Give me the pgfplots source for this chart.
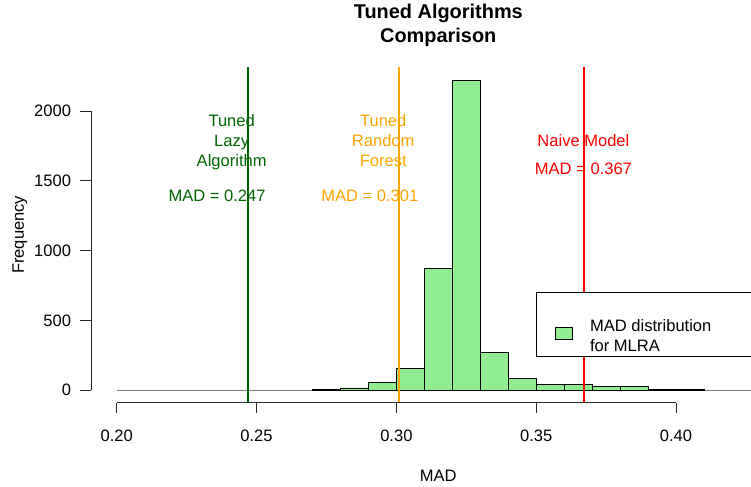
\documentclass[border=0pt]{standalone}
\usepackage{pgfplots}
\pgfplotsset{compat=1.18}
\usepackage{fontspec}
\setmainfont{Liberation Sans}
\definecolor{lightgreenR}{RGB}{144,238,144}
\definecolor{darkgreenR}{RGB}{0,100,0}
\definecolor{orangeR}{RGB}{255,165,0}
\definecolor{redR}{RGB}{255,0,0}
\definecolor{axgray}{RGB}{40,40,40}
\newcommand{\fs}{\fontsize{16.6}{20}\selectfont}
\begin{document}
\begin{tikzpicture}
\useasboundingbox (-91bp,-84.3bp) rectangle (660bp,402.7bp);
\begin{axis}[
  at={(0,0)}, anchor=south west,
  scale only axis, width=694.6bp, height=335.7bp,
  xmin=0.1908, xmax=0.4392, ymin=-89, ymax=2316,
  axis line style={draw=none},
  xtick={0.2,0.25,0.3,0.35,0.4},
  xticklabels={0.20,0.25,0.30,0.35,0.40},
  ytick={0,500,1000,1500,2000},
  yticklabels={0,500,1000,1500,2000},
  xtick pos=bottom, ytick pos=left,
  tick align=outside, major tick length=10.5bp,
  tick style={axgray, line width=0.9bp},
  /pgf/number format/assume math mode=true,
  ticklabel style={font=\fs},
  xticklabel style={anchor=base, yshift=-28bp},
  yticklabel style={anchor=east, xshift=-6bp},
  xlabel={MAD},
  xlabel style={at={(axis description cs:0.5,0)}, anchor=base, yshift=-78.3bp, font=\fs},
  ylabel={Frequency},
  ylabel style={at={(axis description cs:-0.10222,0.5)}, anchor=center, rotate=0, font=\fs},
  title={Tuned Algorithms\\Comparison},
  title style={at={(axis description cs:0.5,1)}, anchor=north, yshift=57.3bp, inner sep=0pt, align=center, font=\fontsize{20}{24}\selectfont\bfseries},
  legend style={at={(axis cs:0.3499,702)}, anchor=north west, draw=black, line width=0.8bp, fill=white,
    inner xsep=19bp, inner ysep=15.25bp, column sep=15bp,
    cells={anchor=west, inner sep=0pt},
    font=\fs},
  legend image code/.code={\draw[fill=lightgreenR, draw=black, line width=0.8bp] (0bp,-14.5bp) rectangle (17bp,-2.5bp);},
  clip=true,
]
\addplot[forget plot, gray, line width=1.2bp] coordinates {(0.2,0) (0.43,0)};
\addplot[ybar interval, fill=lightgreenR, draw=black, line width=0.8bp] coordinates {
  (0.27,7) (0.28,17) (0.29,60) (0.30,156) (0.31,870) (0.32,2221) (0.33,271)
  (0.34,86) (0.35,43) (0.36,39) (0.37,27) (0.38,27) (0.39,7) (0.40,6) (0.41,6)};
\addlegendentry{\begin{tabular}{@{}p{175bp}@{}}\rule{0pt}{21.5bp}MAD distribution\\for MLRA\end{tabular}}
\addplot[forget plot, darkgreenR, line width=2.2bp] coordinates {(0.247,-89) (0.247,2316)};
\addplot[forget plot, orangeR, line width=2.2bp] coordinates {(0.301,-89) (0.301,2316)};
\addplot[forget plot, redR, line width=2.2bp] coordinates {(0.367,-89) (0.367,2316)};
% annotations
\node[darkgreenR, anchor=base, font=\fs, inner sep=0pt] at (axis cs:0.2411,1891) {Tuned};
\node[darkgreenR, anchor=base, font=\fs, inner sep=0pt] at (axis cs:0.2411,1748) {Lazy};
\node[darkgreenR, anchor=base, font=\fs, inner sep=0pt] at (axis cs:0.2411,1605) {Algorithm};
\node[darkgreenR, anchor=base, font=\fs, inner sep=0pt] at (axis cs:0.2359,1350) {MAD = 0.247};
\node[orangeR, anchor=base, font=\fs, inner sep=0pt] at (axis cs:0.2953,1891) {Tuned};
\node[orangeR, anchor=base, font=\fs, inner sep=0pt] at (axis cs:0.2953,1748) {Random};
\node[orangeR, anchor=base, font=\fs, inner sep=0pt] at (axis cs:0.2953,1605) {Forest};
\node[orangeR, anchor=base, font=\fs, inner sep=0pt] at (axis cs:0.2905,1350) {MAD = 0.301};
\node[redR, anchor=base, font=\fs, inner sep=0pt] at (axis cs:0.3669,1750) {Naive Model};
\node[redR, anchor=base, font=\fs, inner sep=0pt] at (axis cs:0.3669,1547) {MAD = 0.367};
% R-style axis lines
\draw[axgray, line width=0.9bp] (axis cs:0.2,-89) -- (axis cs:0.4,-89);
\draw[axgray, line width=0.9bp] (axis cs:0.1908,0) -- (axis cs:0.1908,2000);
\end{axis}
\end{tikzpicture}
\end{document}
